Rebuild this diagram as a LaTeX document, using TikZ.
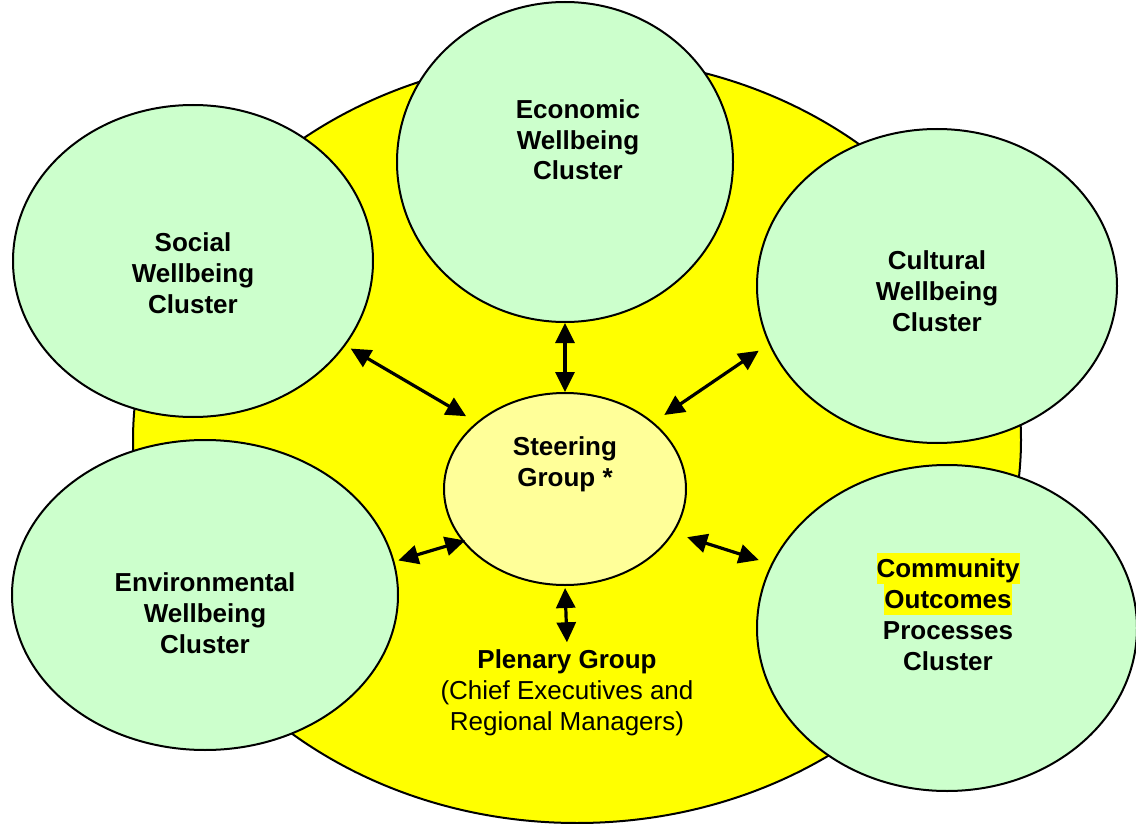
\documentclass[tikz,border=0pt]{standalone}
\usepackage{fontspec}
\setmainfont{Liberation Sans}
\usetikzlibrary{shapes.geometric,arrows.meta}
\definecolor{clustergreen}{HTML}{CCFFCC}
\definecolor{plenaryyellow}{HTML}{FFFF00}
\definecolor{steerfill}{HTML}{FFFF99}
% uniform line strut: height 24.5pt, depth 6.5pt (= 31pt baselineskip)
\newcommand{\ls}{\rule[-6.5pt]{0pt}{31pt}}
\newcommand{\hl}[1]{{\setlength{\fboxsep}{0pt}\colorbox{plenaryyellow}{\ls #1}}}
\tikzset{
  blob/.style={ellipse, draw=black, line width=2pt, inner sep=0pt},
  cluster/.style={blob, fill=clustergreen},
  label/.style={align=center, inner sep=0pt, font=\fontsize{26}{31}\selectfont\bfseries},
  biarrow/.style={line width=3.2pt, {Triangle[length=20pt,width=19pt]}-{Triangle[length=20pt,width=19pt]}}
}
\begin{document}
\begin{tikzpicture}[x=1pt,y=-1pt]
\useasboundingbox (0,0) rectangle (1136,824);

% plenary ring
\node[blob, fill=plenaryyellow, minimum width=888pt, minimum height=766pt] (plen) at (577,440) {};

% the five clusters
\node[cluster, minimum width=336pt, minimum height=320pt] (econ) at (565,162) {};
\node[cluster, minimum width=360pt, minimum height=312pt] (soc) at (193,261) {};
\node[cluster, minimum width=360pt, minimum height=314pt] (cult) at (937,286) {};
\node[cluster, minimum width=386pt, minimum height=310pt] (env) at (205,595) {};
\node[cluster, minimum width=380pt, minimum height=326pt] (comm) at (947,628) {};

% steering group
\node[blob, fill=steerfill, minimum width=242pt, minimum height=192pt] (steer) at (565,489) {};

% labels
\node[label] (econtxt) at (578,140) {\ls Economic\\\ls Wellbeing\\\ls Cluster};
\node[label] (soctxt) at (193,273) {\ls Social\\\ls Wellbeing\\\ls Cluster};
\node[label] (culttxt) at (937,291) {\ls Cultural\\\ls Wellbeing\\\ls Cluster};
\node[label] (envtxt) at (205,613) {\ls Environmental\\\ls Wellbeing\\\ls Cluster};
\node[label] (commtxt) at (948,615) {\hl{Community}\\\hl{Outcomes}\\\ls Processes\\\ls Cluster};
\node[label] (steertxt) at (565,461.5) {\ls Steering\\\ls Group *};
\node[label, font=\fontsize{26}{31}\selectfont] (plentxt) at (567,690)
  {\ls\textbf{Plenary Group}\\\ls (Chief Executives and\\\ls Regional Managers)};

% links between the clusters and the steering group
\draw[biarrow, shorten <=6pt, shorten >=12pt] (soc.-29) -- (steer.143);
\draw[biarrow] (econ.south) -- (steer.north);
\draw[biarrow, shorten <=12pt, shorten >=13pt] (cult.199) -- (steer.37);
\draw[biarrow, shorten <=4pt, shorten >=-3pt] (env.10) -- (steer.207);
\draw[biarrow, shorten <=13pt, shorten >=14pt] (comm.160) -- (steer.-22);
\draw[biarrow, shorten <=2pt, shorten >=1pt] (steer.south) -- (plentxt.north);
\end{tikzpicture}
\end{document}
